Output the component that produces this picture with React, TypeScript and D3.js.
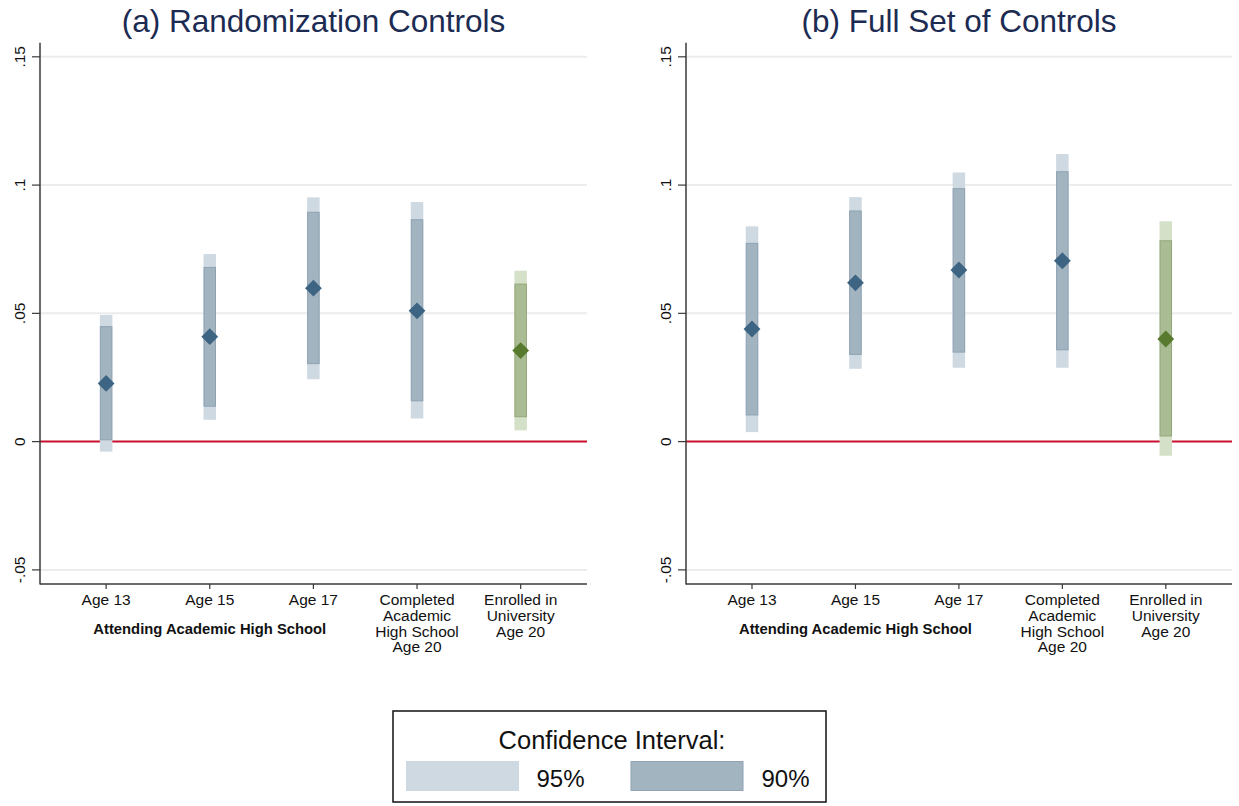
import React, { useEffect } from "react";
import * as d3 from "d3";

const categories: string[][] = [
  ["Age 13"],
  ["Age 15"],
  ["Age 17"],
  ["Completed", "Academic", "High School", "Age 20"],
  ["Enrolled in", "University", "Age 20"],
];
const groupLabel = "Attending Academic High School";
const yTicks = [-0.05, 0, 0.05, 0.1, 0.15];
const yTickLabels = ["-.05", "0", ".05", ".1", ".15"];

const titleA = "(a) Randomization Controls";
const estA = [0.0227, 0.0409, 0.0598, 0.051, 0.0355];
const lo90A = [0.0007, 0.0138, 0.0304, 0.0159, 0.0097];
const hi90A = [0.0448, 0.0679, 0.0894, 0.0865, 0.0614];
const lo95A = [-0.0039, 0.0085, 0.0243, 0.009, 0.0044];
const hi95A = [0.0494, 0.0731, 0.0952, 0.0934, 0.0666];

const titleB = "(b) Full Set of Controls";
const estB = [0.0439, 0.0619, 0.0669, 0.0705, 0.04];
const lo90B = [0.0104, 0.034, 0.0349, 0.0358, 0.0022];
const hi90B = [0.0773, 0.0899, 0.0986, 0.1052, 0.0783];
const lo95B = [0.0037, 0.0284, 0.0288, 0.0288, -0.0055];
const hi95B = [0.0839, 0.0953, 0.1049, 0.1121, 0.0859];

const legendTitle = "Confidence Interval:";
const legendLabels = ["95%", "90%"];

const FONT = "'Liberation Sans', Arial, Helvetica, sans-serif";
const BLUE = { c95: "#cfd9e2", c90: "#a3b4c1", e90: "#8ea2b2", pt: "#3d6482" };
const GREEN = { c95: "#d5e0c8", c90: "#aabc93", e90: "#93a87a", pt: "#587a2f" };

type PanelProps = {
  title: string;
  est: number[];
  lo90: number[];
  hi90: number[];
  lo95: number[];
  hi95: number[];
  x0: number;
  x1: number;
};

function Panel({ title, est, lo90, hi90, lo95, hi95, x0, x1 }: PanelProps) {
  const y = d3.scaleLinear().domain([-0.0555, 0.1555]).range([584, 42.7]);
  const x = d3.scaleLinear().domain([0.362, 5.64]).range([x0, x1]);
  const bw = 12.5;
  const diamond = d3.symbol().type(d3.symbolDiamond2).size(180)();
  return (
    <g>
      <text x={(x0 + x1) / 2} y={32} textAnchor="middle" fontFamily={FONT} fontSize={31.5} fill="#1c2b52">
        {title}
      </text>
      {yTicks.map((t, i) =>
        t === 0 ? null : (
          <line key={"g" + i} x1={x0} x2={x1} y1={y(t)} y2={y(t)} stroke="#ececec" strokeWidth={2} />
        )
      )}
      <line x1={x0} x2={x1} y1={y(0)} y2={y(0)} stroke="#c8102e" strokeWidth={2} />
      {est.map((v, i) => {
        const c = i === 4 ? GREEN : BLUE;
        const cx = x(i + 1);
        return (
          <g key={"b" + i}>
            <rect x={cx - bw / 2} width={bw} y={y(hi95[i])} height={y(lo95[i]) - y(hi95[i])} fill={c.c95} />
            <rect
              x={cx - bw / 2 + 0.5}
              width={bw - 1}
              y={y(hi90[i])}
              height={y(lo90[i]) - y(hi90[i])}
              fill={c.c90}
              stroke={c.e90}
              strokeWidth={1}
            />
            <path d={diamond || ""} transform={`translate(${cx},${y(v)})`} fill={c.pt} />
          </g>
        );
      })}
      <line x1={x0} x2={x0} y1={42.7} y2={584.5} stroke="#3a3a3a" strokeWidth={1.5} />
      <line x1={x0} x2={x1} y1={584} y2={584} stroke="#3a3a3a" strokeWidth={1.5} />
      {yTicks.map((t, i) => (
        <g key={"yt" + i}>
          <line x1={x0 - 8} x2={x0} y1={y(t)} y2={y(t)} stroke="#3a3a3a" strokeWidth={1.2} />
          <text
            transform={`translate(${x0 - 15},${y(t)}) rotate(-90)`}
            textAnchor="middle"
            fontFamily={FONT}
            fontSize={15.5}
            fill="#111"
          >
            {yTickLabels[i]}
          </text>
        </g>
      ))}
      {categories.map((lines, i) => (
        <g key={"xt" + i}>
          <line x1={x(i + 1)} x2={x(i + 1)} y1={584} y2={589} stroke="#3a3a3a" strokeWidth={1.2} />
          <text textAnchor="middle" fontFamily={FONT} fontSize={15.5} fill="#111">
            {lines.map((l, j) => (
              <tspan key={j} x={x(i + 1)} y={605 + j * 15.8}>
                {l}
              </tspan>
            ))}
          </text>
        </g>
      ))}
      <text x={x(2)} y={633.5} textAnchor="middle" fontFamily={FONT} fontSize={14.8} fontWeight="bold" fill="#111">
        {groupLabel}
      </text>
    </g>
  );
}

export default function App() {
  useEffect(() => {
    document.body.style.margin = "0";
  }, []);
  return (
    <svg width={1239} height={806} style={{ display: "block", background: "#fff" }}>
      <rect width={1239} height={806} fill="#fff" />
      <Panel title={titleA} est={estA} lo90={lo90A} hi90={hi90A} lo95={lo95A} hi95={hi95A} x0={40} x1={587} />
      <Panel title={titleB} est={estB} lo90={lo90B} hi90={hi90B} lo95={lo95B} hi95={hi95B} x0={686} x1={1232} />
      <g>
        <rect x={393} y={711} width={433} height={91} fill="#fff" stroke="#111" strokeWidth={1.5} />
        <text x={612} y={749} textAnchor="middle" fontFamily={FONT} fontSize={25.5} fill="#111">
          {legendTitle}
        </text>
        <rect x={406} y={761} width={113} height={30} fill={BLUE.c95} />
        <text x={536.5} y={787} fontFamily={FONT} fontSize={24} fill="#111">
          {legendLabels[0]}
        </text>
        <rect x={631} y={761.5} width={112} height={29} fill={BLUE.c90} stroke={BLUE.e90} strokeWidth={1} />
        <text x={761.5} y={787} fontFamily={FONT} fontSize={24} fill="#111">
          {legendLabels[1]}
        </text>
      </g>
    </svg>
  );
}
